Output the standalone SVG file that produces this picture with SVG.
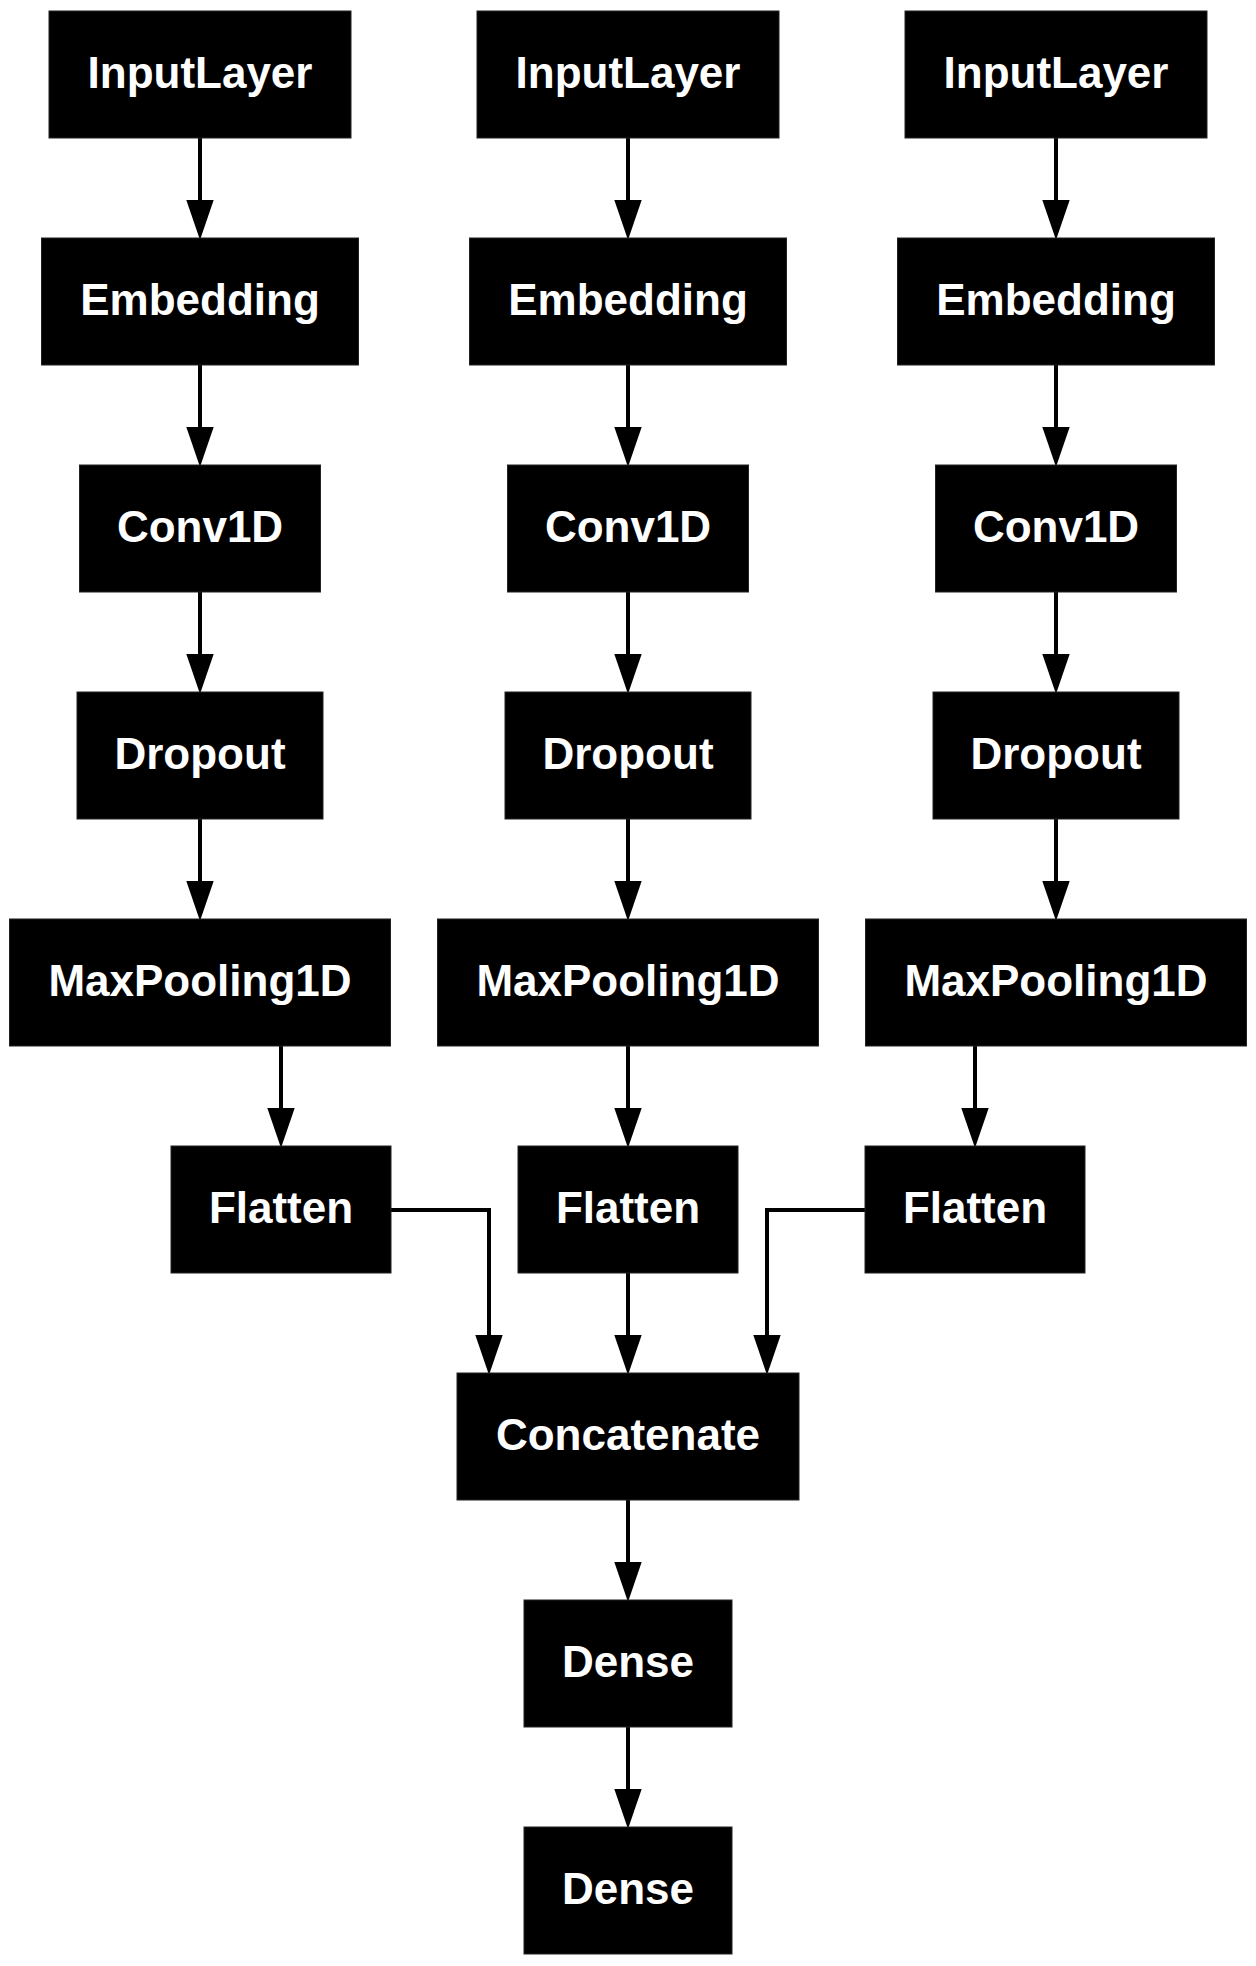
<svg xmlns="http://www.w3.org/2000/svg" width="1256" height="1966" viewBox="0 0 1256 1966">
<defs>
<style>
.box{fill:#000;stroke:#222;stroke-width:1}
.lbl{fill:#fff;font-family:"Liberation Sans",Arial,sans-serif;font-weight:bold;font-size:44px;text-anchor:middle}
.edge{fill:none;stroke:#000;stroke-width:4}
</style>
<marker id="arr" markerUnits="userSpaceOnUse" markerWidth="40" markerHeight="28" refX="0" refY="13" orient="auto" viewBox="0 0 38 26">
<path d="M0,0 L38,13 L0,26 z" fill="#000"/>
</marker>
</defs>
<rect width="1256" height="1966" fill="#fff"/>
<g id="connectors">
<path class="edge" marker-end="url(#arr)" d="M200,138 V200"/>
<path class="edge" marker-end="url(#arr)" d="M200,365 V427"/>
<path class="edge" marker-end="url(#arr)" d="M200,592 V654"/>
<path class="edge" marker-end="url(#arr)" d="M200,819 V881"/>
<path class="edge" marker-end="url(#arr)" d="M281,1046 V1108"/>
<path class="edge" marker-end="url(#arr)" d="M628,138 V200"/>
<path class="edge" marker-end="url(#arr)" d="M628,365 V427"/>
<path class="edge" marker-end="url(#arr)" d="M628,592 V654"/>
<path class="edge" marker-end="url(#arr)" d="M628,819 V881"/>
<path class="edge" marker-end="url(#arr)" d="M628,1046 V1108"/>
<path class="edge" marker-end="url(#arr)" d="M1056,138 V200"/>
<path class="edge" marker-end="url(#arr)" d="M1056,365 V427"/>
<path class="edge" marker-end="url(#arr)" d="M1056,592 V654"/>
<path class="edge" marker-end="url(#arr)" d="M1056,819 V881"/>
<path class="edge" marker-end="url(#arr)" d="M975,1046 V1108"/>
<path class="edge" marker-end="url(#arr)" d="M391,1210 H489 V1335"/>
<path class="edge" marker-end="url(#arr)" d="M628,1273 V1335"/>
<path class="edge" marker-end="url(#arr)" d="M865,1210 H767 V1335"/>
<path class="edge" marker-end="url(#arr)" d="M628,1500 V1562"/>
<path class="edge" marker-end="url(#arr)" d="M628,1727 V1789"/>
</g>
<g id="input1"><rect class="box" x="49" y="11" width="302" height="127"/><text class="lbl" x="200" y="88">InputLayer</text></g>
<g id="embedding1"><rect class="box" x="41.5" y="238" width="317" height="127"/><text class="lbl" x="200" y="315">Embedding</text></g>
<g id="conv1"><rect class="box" x="79.5" y="465" width="241" height="127"/><text class="lbl" x="200" y="542">Conv1D</text></g>
<g id="dropout1"><rect class="box" x="77" y="692" width="246" height="127"/><text class="lbl" x="200" y="769">Dropout</text></g>
<g id="maxpool1"><rect class="box" x="9.5" y="919" width="381" height="127"/><text class="lbl" x="200" y="996">MaxPooling1D</text></g>
<g id="flatten1"><rect class="box" x="171" y="1146" width="220" height="127"/><text class="lbl" x="281" y="1223">Flatten</text></g>
<g id="input2"><rect class="box" x="477" y="11" width="302" height="127"/><text class="lbl" x="628" y="88">InputLayer</text></g>
<g id="embedding2"><rect class="box" x="469.5" y="238" width="317" height="127"/><text class="lbl" x="628" y="315">Embedding</text></g>
<g id="conv2"><rect class="box" x="507.5" y="465" width="241" height="127"/><text class="lbl" x="628" y="542">Conv1D</text></g>
<g id="dropout2"><rect class="box" x="505" y="692" width="246" height="127"/><text class="lbl" x="628" y="769">Dropout</text></g>
<g id="maxpool2"><rect class="box" x="437.5" y="919" width="381" height="127"/><text class="lbl" x="628" y="996">MaxPooling1D</text></g>
<g id="flatten2"><rect class="box" x="518" y="1146" width="220" height="127"/><text class="lbl" x="628" y="1223">Flatten</text></g>
<g id="input3"><rect class="box" x="905" y="11" width="302" height="127"/><text class="lbl" x="1056" y="88">InputLayer</text></g>
<g id="embedding3"><rect class="box" x="897.5" y="238" width="317" height="127"/><text class="lbl" x="1056" y="315">Embedding</text></g>
<g id="conv3"><rect class="box" x="935.5" y="465" width="241" height="127"/><text class="lbl" x="1056" y="542">Conv1D</text></g>
<g id="dropout3"><rect class="box" x="933" y="692" width="246" height="127"/><text class="lbl" x="1056" y="769">Dropout</text></g>
<g id="maxpool3"><rect class="box" x="865.5" y="919" width="381" height="127"/><text class="lbl" x="1056" y="996">MaxPooling1D</text></g>
<g id="flatten3"><rect class="box" x="865" y="1146" width="220" height="127"/><text class="lbl" x="975" y="1223">Flatten</text></g>
<g id="concatenate"><rect class="box" x="457" y="1373" width="342" height="127"/><text class="lbl" x="628" y="1450">Concatenate</text></g>
<g id="dense1"><rect class="box" x="524" y="1600" width="208" height="127"/><text class="lbl" x="628" y="1677">Dense</text></g>
<g id="dense2"><rect class="box" x="524" y="1827" width="208" height="127"/><text class="lbl" x="628" y="1904">Dense</text></g>
</svg>
